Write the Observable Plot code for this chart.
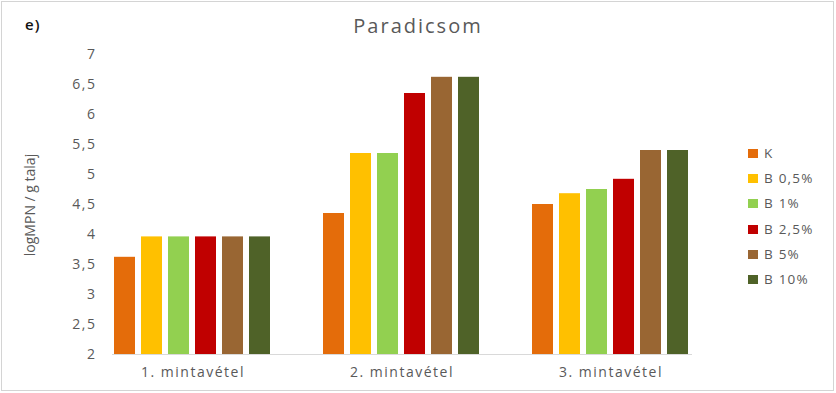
<!DOCTYPE html>
<html><head><meta charset="utf-8">
<script src="https://cdn.jsdelivr.net/npm/d3@7"></script>
<script src="https://cdn.jsdelivr.net/npm/@observablehq/plot@0.6"></script>
<style>
body{margin:0;background:#fff;}
#wrap{position:relative;width:836px;height:393px;overflow:hidden;font-family:"Open Sans",sans-serif;background:#fff;}
#frame{position:absolute;left:1px;top:1px;width:831px;height:388px;border:1px solid #d4d4d4;}
#panel{position:absolute;left:25px;top:14px;font-size:15px;font-weight:600;color:#111;letter-spacing:1px;}
#title{position:absolute;left:0;width:836px;top:12px;text-align:center;font-size:20px;color:#595959;letter-spacing:2px;}
#ylab{position:absolute;left:29px;top:205px;transform:translate(-50%,-50%) rotate(-90deg);font-size:14px;color:#595959;white-space:nowrap;}
#chart{position:absolute;left:0;top:40px;}
#legend{position:absolute;left:748px;top:0;}
.item{position:absolute;left:0;white-space:nowrap;font-size:13.5px;color:#595959;letter-spacing:1.2px;line-height:16px;}
.sw{display:inline-block;width:10px;height:9px;margin-right:6px;vertical-align:-0px;}
</style></head>
<body>
<div id="wrap">
  <div id="frame"></div>
  <div id="panel">e)</div>
  <div id="title">Paradicsom</div>
  <div id="ylab">logMPN / g talaj</div>
  <div id="chart"></div>
  <div id="legend"></div>
</div>
<script>
const groups = ["1. mintavétel", "2. mintavétel", "3. mintavétel"];
const series = ["K", "B 0,5%", "B 1%", "B 2,5%", "B 5%", "B 10%"];
const colors = ["#E46C0A", "#FFC000", "#92D050", "#C00000", "#996633", "#4F6228"];
const valuesK    = [3.62, 4.35, 4.50];
const valuesB05  = [3.96, 5.35, 4.68];
const valuesB1   = [3.96, 5.35, 4.75];
const valuesB25  = [3.96, 6.35, 4.92];
const valuesB5   = [3.96, 6.62, 5.40];
const valuesB10  = [3.96, 6.62, 5.40];
const yTicks = [2, 2.5, 3, 3.5, 4, 4.5, 5, 5.5, 6, 6.5, 7];
const yMin = 2, yMax = 7;

const allValues = [valuesK, valuesB05, valuesB1, valuesB25, valuesB5, valuesB10];
const data = [];
series.forEach((s, i) => groups.forEach((g, j) => data.push({group: g, series: s, value: allValues[i][j]})));

const fmt = d => String(d).replace(".", ",");

const legend = document.getElementById("legend");
series.forEach((s, i) => {
  const d = document.createElement("div");
  d.className = "item";
  d.style.top = (145 + i * 25.2) + "px";
  d.innerHTML = `<span class="sw" style="background:${colors[i]}"></span>${s}`;
  legend.appendChild(d);
});

const chart = Plot.plot({
  width: 836,
  height: 353,
  marginLeft: 88,
  marginRight: 121,
  marginTop: 14,
  marginBottom: 39,
  style: {fontFamily: "'Open Sans', sans-serif", fontSize: "14px", color: "#595959", background: "transparent", letterSpacing: "1.5px"},
  fx: {domain: groups, paddingInner: 0.23, paddingOuter: 0.115, label: null, axis: "bottom", tickSize: 0, tickPadding: 13},
  x: {domain: series, paddingInner: 0.21, paddingOuter: 0, axis: null},
  y: {domain: [yMin, yMax], ticks: yTicks, tickFormat: fmt, tickSize: 0, tickPadding: 16, label: null},
  color: {domain: series, range: colors},
  marks: [
    Plot.barY(data, {fx: "group", x: "series", y1: () => yMin, y2: "value", fill: "series"}),
    Plot.frame({anchor: "bottom", facet: "super", stroke: "#d9d9d9", strokeWidth: 1})
  ]
});
document.getElementById("chart").appendChild(chart);
</script>
</body></html>
